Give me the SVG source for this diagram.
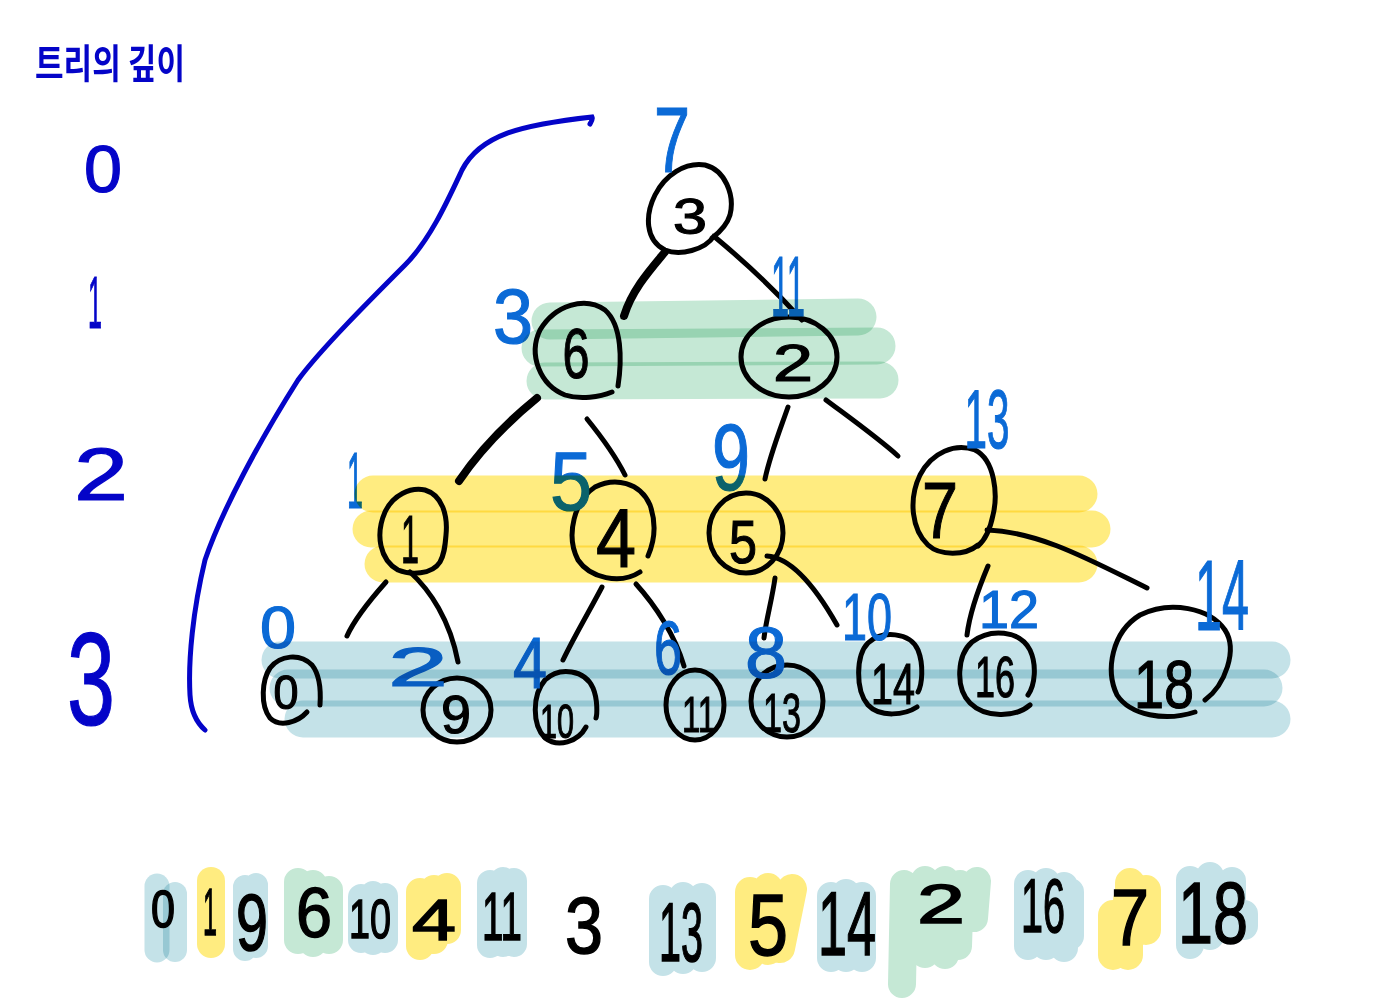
<svg xmlns="http://www.w3.org/2000/svg" width="1374" height="1000" viewBox="0 0 1374 1000">
<style>
.bg{fill:#ffffff}
.circ{fill:none;stroke:#000;stroke-width:5;stroke-linecap:round}
.edge{fill:none;stroke:#000;stroke-width:5;stroke-linecap:round}
.thick{stroke-width:8}
.nt{font-family:"Liberation Sans",Arial,sans-serif;fill:#000;stroke:#000;stroke-width:1.2;text-anchor:middle}
.idx{font-family:"Liberation Sans",Arial,sans-serif;fill:#0b6ad6;stroke:#0b6ad6;stroke-width:1.2;text-anchor:middle}
.depth{font-family:"Liberation Sans",Arial,sans-serif;fill:#0404c8;stroke:#0404c8;stroke-width:1.2;text-anchor:middle}
.title{font-family:"Noto Sans CJK KR","Noto Sans",sans-serif;fill:#0404c8;font-weight:bold}
.brace{fill:none;stroke:#0404c8;stroke-width:5;stroke-linecap:round}
.hl{fill:none;stroke-linecap:round;stroke-linejoin:round;mix-blend-mode:multiply}
.teal{stroke:#c4e2e8}
.yel{stroke:#ffec80}
.grn{stroke:#c5e8d5}
.band{stroke-width:37}
.blob{stroke-width:27}
.seq{font-family:"Liberation Sans",Arial,sans-serif;fill:#000;stroke:#000;stroke-width:1.5;text-anchor:middle}
</style>
<rect class="bg" x="0" y="0" width="1374" height="1000"/>

<g id="depth-axis">
  <text class="title" x="35" y="78" font-size="40" textLength="150" lengthAdjust="spacingAndGlyphs">트리의 깊이</text>
  <text class="depth" x="103" y="192" font-size="66" textLength="38" lengthAdjust="spacingAndGlyphs">0</text>
  <text class="depth" x="95" y="328" font-size="74" textLength="14" lengthAdjust="spacingAndGlyphs">1</text>
  <text class="depth" x="101" y="500" font-size="74" textLength="54" lengthAdjust="spacingAndGlyphs">2</text>
  <text class="depth" x="91" y="725" font-size="132" textLength="48" lengthAdjust="spacingAndGlyphs">3</text>
  <path class="brace" d="M590,124 C592,121 593,119 592,117 C520,125 480,135 462,170 C448,200 430,240 405,265 C370,300 320,350 298,380 C260,440 222,510 205,560 C193,610 188,660 190,695 C191,712 196,722 205,730"/>
</g>

<g id="connectors">
  <path class="edge thick" d="M665,252 C650,270 632,290 624,316"/>
  <path class="edge" d="M716,238 C740,258 775,290 802,320"/>
  <path class="edge thick" d="M537,398 C510,420 480,450 459,481"/>
  <path class="edge" d="M587,419 C600,435 615,455 625,475"/>
  <path class="edge" d="M788,407 C780,430 770,455 765,479"/>
  <path class="edge" d="M826,400 C850,418 878,438 898,456"/>
  <path class="edge" d="M386,582 C370,600 355,618 347,636"/>
  <path class="edge" d="M410,572 C430,590 450,620 458,662"/>
  <path class="edge" d="M602,587 C590,610 575,635 563,660"/>
  <path class="edge" d="M636,584 C655,605 675,635 684,666"/>
  <path class="edge" d="M775,578 C772,600 766,620 764,638"/>
  <path class="edge" d="M767,556 C795,558 820,595 837,625"/>
  <path class="edge" d="M988,566 C980,585 970,610 967,635"/>
  <path class="edge" d="M987,530 C1040,532 1090,560 1147,588"/>
</g>

<g id="node-3">
  <path class="circ" d="M714,236 C705,250 680,256 665,250 C645,240 645,215 655,195 C665,175 685,162 705,165 C725,170 735,195 730,215 C727,225 720,232 712,238"/>
  <text class="nt" x="690" y="234" font-size="50" textLength="34" lengthAdjust="spacingAndGlyphs">3</text>
</g>
<g id="node-6">
  <path class="circ" d="M618,386 C622,360 622,325 605,310 C585,296 555,305 540,330 C528,355 540,385 565,395 C580,400 600,397 612,392"/>
  <text class="nt" x="576" y="378" font-size="70" textLength="27" lengthAdjust="spacingAndGlyphs">6</text>
</g>
<g id="node-2">
  <ellipse class="circ" cx="789" cy="357" rx="48" ry="40"/>
  <text class="nt" x="793" y="381" font-size="52" textLength="40" lengthAdjust="spacingAndGlyphs">2</text>
</g>
<g id="node-1">
  <path class="circ" d="M440,562 C432,575 410,575 398,570 C380,560 375,535 385,512 C393,495 410,487 425,490 C442,495 448,515 446,535 C445,548 444,555 440,562"/>
  <text class="nt" x="410" y="563" font-size="68" textLength="18" lengthAdjust="spacingAndGlyphs">1</text>
</g>
<g id="node-4">
  <path class="circ" d="M640,572 C620,585 590,578 578,560 C565,535 575,500 595,487 C615,477 640,482 650,505 C656,522 655,540 648,556"/>
  <text class="nt" x="616" y="567" font-size="84" textLength="40" lengthAdjust="spacingAndGlyphs">4</text>
</g>
<g id="node-5">
  <ellipse class="circ" cx="746" cy="533" rx="37" ry="40"/>
  <text class="nt" x="743" y="563" font-size="62" textLength="28" lengthAdjust="spacingAndGlyphs">5</text>
</g>
<g id="node-7">
  <path class="circ" d="M978,545 C965,556 940,556 928,545 C912,530 908,500 920,475 C932,452 955,443 975,450 C995,460 998,495 993,515 C990,530 985,540 978,546"/>
  <text class="nt" x="940" y="538" font-size="80" textLength="36" lengthAdjust="spacingAndGlyphs">7</text>
</g>
<g id="node-0">
  <path class="circ" d="M307,712 C298,722 280,728 270,718 C260,705 262,680 270,668 C280,655 300,653 312,665 C320,675 321,690 320,705"/>
  <text class="nt" x="286" y="709" font-size="48" textLength="25" lengthAdjust="spacingAndGlyphs">0</text>
</g>
<g id="node-9">
  <ellipse class="circ" cx="457" cy="710" rx="34" ry="32"/>
  <text class="nt" x="456" y="733" font-size="54" textLength="30" lengthAdjust="spacingAndGlyphs">9</text>
</g>
<g id="node-10">
  <path class="circ" d="M586,727 C578,742 558,748 545,738 C532,725 532,695 545,680 C560,666 585,670 593,688 C598,700 597,715 596,718"/>
  <text class="nt" x="557" y="738" font-size="48" textLength="34" lengthAdjust="spacingAndGlyphs">10</text>
</g>
<g id="node-11">
  <ellipse class="circ" cx="695" cy="705" rx="29" ry="35"/>
  <text class="nt" x="699" y="732" font-size="50" textLength="34" lengthAdjust="spacingAndGlyphs">11</text>
</g>
<g id="node-13">
  <ellipse class="circ" cx="787" cy="701" rx="36" ry="36"/>
  <text class="nt" x="782" y="732" font-size="56" textLength="38" lengthAdjust="spacingAndGlyphs">13</text>
</g>
<g id="node-14">
  <path class="circ" d="M917,707 C905,715 880,718 868,705 C855,690 856,655 868,643 C882,630 910,632 918,650 C924,665 922,685 918,692"/>
  <text class="nt" x="893" y="704" font-size="58" textLength="44" lengthAdjust="spacingAndGlyphs">14</text>
</g>
<g id="node-16">
  <path class="circ" d="M1030,705 C1015,718 985,718 970,703 C955,688 957,655 972,642 C990,628 1020,630 1030,650 C1037,665 1035,685 1028,695"/>
  <text class="nt" x="995" y="697" font-size="58" textLength="40" lengthAdjust="spacingAndGlyphs">16</text>
</g>
<g id="node-18">
  <path class="circ" d="M1195,712 C1165,722 1130,715 1117,695 C1105,670 1112,632 1140,615 C1170,600 1210,608 1225,630 C1238,650 1225,685 1205,700"/>
  <text class="nt" x="1164" y="708" font-size="68" textLength="60" lengthAdjust="spacingAndGlyphs">18</text>
</g>

<g id="index-labels">
  <text class="idx" x="672" y="172" font-size="92" textLength="36" lengthAdjust="spacingAndGlyphs">7</text>
  <text class="idx" x="513" y="343" font-size="78" textLength="40" lengthAdjust="spacingAndGlyphs">3</text>
  <text class="idx" x="788" y="316" font-size="86" textLength="34" lengthAdjust="spacingAndGlyphs">11</text>
  <text class="idx" x="987" y="448" font-size="84" textLength="45" lengthAdjust="spacingAndGlyphs">13</text>
  <text class="idx" x="355" y="508" font-size="80" textLength="16" lengthAdjust="spacingAndGlyphs">1</text>
  <text class="idx" x="571" y="510" font-size="84" textLength="42" lengthAdjust="spacingAndGlyphs">5</text>
  <text class="idx" x="731" y="490" font-size="94" textLength="38" lengthAdjust="spacingAndGlyphs">9</text>
  <text class="idx" x="278" y="648" font-size="60" textLength="36" lengthAdjust="spacingAndGlyphs">0</text>
  <text class="idx" x="418" y="686" font-size="56" textLength="60" lengthAdjust="spacingAndGlyphs">2</text>
  <text class="idx" x="530" y="688" font-size="72" textLength="34" lengthAdjust="spacingAndGlyphs">4</text>
  <text class="idx" x="668" y="674" font-size="76" textLength="28" lengthAdjust="spacingAndGlyphs">6</text>
  <text class="idx" x="766" y="678" font-size="72" textLength="42" lengthAdjust="spacingAndGlyphs">8</text>
  <text class="idx" x="867" y="640" font-size="66" textLength="50" lengthAdjust="spacingAndGlyphs">10</text>
  <text class="idx" x="1009" y="628" font-size="54" textLength="60" lengthAdjust="spacingAndGlyphs">12</text>
  <text class="idx" x="1222" y="630" font-size="100" textLength="54" lengthAdjust="spacingAndGlyphs">14</text>
</g>

<g id="inorder-sequence">
  <text class="seq" x="163" y="927" font-size="52" textLength="24" lengthAdjust="spacingAndGlyphs">0</text>
  <text class="seq" x="210" y="935" font-size="66" textLength="14" lengthAdjust="spacingAndGlyphs">1</text>
  <text class="seq" x="252" y="950" font-size="80" textLength="32" lengthAdjust="spacingAndGlyphs">9</text>
  <text class="seq" x="314" y="937" font-size="70" textLength="36" lengthAdjust="spacingAndGlyphs">6</text>
  <text class="seq" x="370" y="938" font-size="56" textLength="42" lengthAdjust="spacingAndGlyphs">10</text>
  <text class="seq" x="434" y="940" font-size="58" textLength="44" lengthAdjust="spacingAndGlyphs">4</text>
  <text class="seq" x="502" y="940" font-size="68" textLength="40" lengthAdjust="spacingAndGlyphs">11</text>
  <text class="seq" x="584" y="953" font-size="80" textLength="38" lengthAdjust="spacingAndGlyphs">3</text>
  <text class="seq" x="681" y="961" font-size="84" textLength="44" lengthAdjust="spacingAndGlyphs">13</text>
  <text class="seq" x="768" y="955" font-size="88" textLength="40" lengthAdjust="spacingAndGlyphs">5</text>
  <text class="seq" x="847" y="955" font-size="90" textLength="58" lengthAdjust="spacingAndGlyphs">14</text>
  <text class="seq" x="941" y="923" font-size="56" textLength="48" lengthAdjust="spacingAndGlyphs">2</text>
  <text class="seq" x="1043" y="932" font-size="76" textLength="44" lengthAdjust="spacingAndGlyphs">16</text>
  <text class="seq" x="1130" y="945" font-size="80" textLength="38" lengthAdjust="spacingAndGlyphs">7</text>
  <text class="seq" x="1213" y="943" font-size="88" textLength="70" lengthAdjust="spacingAndGlyphs">18</text>
</g>

<g id="highlights">
  <path class="hl grn band" d="M550,321 L858,317"/>
  <path class="hl grn band" d="M540,348 L877,346"/>
  <path class="hl grn band" d="M545,381 L880,380"/>
  <path class="hl yel band" d="M373,494 L1079,494"/>
  <path class="hl yel band" d="M371,529 L1092,529"/>
  <path class="hl yel band" d="M383,564 L1079,564"/>
  <path class="hl teal band" d="M280,660 L1272,660"/>
  <path class="hl teal band" d="M288,688 L1264,688"/>
  <path class="hl teal band" d="M303,719 L1272,719"/>

  <path class="hl teal blob" d="M157,886 V950" style="stroke-width:25"/>
  <path class="hl teal blob" d="M175,894 V950" style="stroke-width:24"/>
  <path class="hl yel blob" d="M211,881 V944" style="stroke-width:28"/>
  <path class="hl teal blob" d="M245,887 V949 M256,885 V946" style="stroke-width:24"/>
  <path class="hl grn blob" d="M298,882 V940 M313,884 V943 M329,890 V940" style="stroke-width:28"/>
  <path class="hl teal blob" d="M361,897 V940 M373,894 V942 M385,896 V940" style="stroke-width:26"/>
  <path class="hl yel blob" d="M420,892 V946 M434,889 V940 M447,887 V930" style="stroke-width:28"/>
  <path class="hl teal blob" d="M490,883 V945 M503,880 V944 M514,881 V944" style="stroke-width:26"/>
  <path class="hl teal blob" d="M663,899 V962 M683,896 V960 M702,897 V958" style="stroke-width:28"/>
  <path class="hl yel blob" d="M750,892 V955 M768,888 V950 M792,889 L780,948" style="stroke-width:30"/>
  <path class="hl teal blob" d="M831,896 V958 M846,893 V958 M862,896 V958" style="stroke-width:28"/>
  <path class="hl grn blob" d="M904,884 L902,984 M925,880 L925,954 M945,880 L945,955 M960,884 L958,946 M977,881 L974,918" style="stroke-width:28"/>
  <path class="hl teal blob" d="M1028,884 V946 M1046,882 V946 M1064,886 V948 M1070,892 V936" style="stroke-width:28"/>
  <path class="hl yel blob" d="M1130,883 V905 M1113,915 V955 M1128,900 V955 M1146,890 V930" style="stroke-width:30"/>
  <path class="hl teal blob" d="M1190,880 V945 M1210,876 V936 M1232,881 V930 M1244,914 V926" style="stroke-width:28"/>
</g>
</svg>
